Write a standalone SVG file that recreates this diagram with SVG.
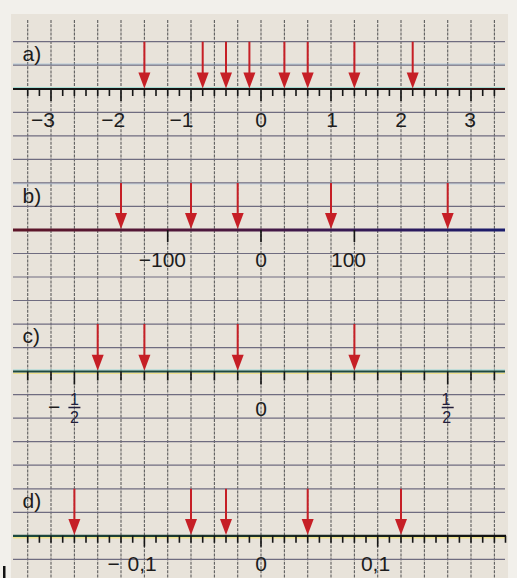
<svg xmlns="http://www.w3.org/2000/svg" width="517" height="578" viewBox="0 0 517 578">
<style>
.vg{stroke:#5e5e5e;stroke-width:1.1;stroke-dasharray:3 1.2;fill:none}
.hg{stroke:#6f6c80;stroke-width:1.2;fill:none}
.tick{stroke:#151515;stroke-width:1.6;fill:none}
.shaft{stroke:#c61f26;stroke-width:2;fill:none}
.head{fill:#c61f26}
.lbl{font-family:"Liberation Sans",Arial,sans-serif;font-size:21px;fill:#1d1d1d}
.num{font-family:"Liberation Sans",Arial,sans-serif;font-size:21px;fill:#1d1d1d}
.frac{font-family:"Liberation Sans",Arial,sans-serif;font-size:16px;fill:#221d3a}
</style>
<defs>
<path id="ah" d="M-6,-16 L6,-16 L0,0 Z" class="head"/>
<linearGradient id="gb" gradientUnits="userSpaceOnUse" x1="13" y1="0" x2="505" y2="0">
<stop offset="0" stop-color="#5e1628"/><stop offset="0.45" stop-color="#4a1840"/><stop offset="1" stop-color="#1b1c6c"/>
</linearGradient>
<linearGradient id="gd" gradientUnits="userSpaceOnUse" x1="13" y1="0" x2="505" y2="0">
<stop offset="0" stop-color="#1c4a40"/><stop offset="0.6" stop-color="#1a2a24"/><stop offset="1" stop-color="#121212"/>
</linearGradient>
<linearGradient id="ga" gradientUnits="userSpaceOnUse" x1="13" y1="0" x2="505" y2="0">
<stop offset="0" stop-color="#161616"/><stop offset="0.7" stop-color="#1a1414"/><stop offset="1" stop-color="#3a1010"/>
</linearGradient>
</defs>
<rect x="0" y="0" width="517" height="578" fill="#f2f0eb"/>
<rect x="11" y="14" width="497" height="564" fill="#e8e3da"/>
<g id="grid">
<path class="vg" d="M27.7,20V578M51,20V578M74.4,20V578M97.7,20V578M121,20V578M144.4,20V578M167.7,20V578M191,20V578M214.4,20V578M237.7,20V578M261,20V578M284.4,20V578M307.7,20V578M331,20V578M354.4,20V578M377.7,20V578M401,20V578M424.4,20V578M447.7,20V578M471,20V578M494.4,20V578"/>
<path class="hg" d="M13,41.7H505M13,65.2H505M13,112.3H505M13,135.8H505M13,159.4H505M13,182.9H505M13,206.4H505M13,253.5H505M13,277H505M13,300.5H505M13,324.1H505M13,347.6H505M13,394.7H505M13,418.2H505M13,441.7H505M13,465.2H505M13,488.8H505M13,512.3H505M13,559.4H505"/>
<path d="M13,64H505" stroke="#8fb6d8" stroke-width="0.8" opacity="0.7"/>
<path d="M13,184H505" stroke="#a8c8e8" stroke-width="0.8" opacity="0.6"/>
</g>
<g id="line-a">
<path d="M13,87.6H505" stroke="#a6dcd2" stroke-width="1.2"/>
<path d="M13,89H505" stroke="url(#ga)" stroke-width="2.2"/>
<path class="tick" d="M27.7,89v7M39.4,89v7M62.7,89v7M74.4,89v7M86,89v7M97.7,89v7M109.4,89v7M132.7,89v7M144.4,89v7M156,89v7M167.7,89v7M179.4,89v7M202.7,89v7M214.4,89v7M226,89v7M237.7,89v7M249.4,89v7M272.7,89v7M284.4,89v7M296,89v7M307.7,89v7M319.4,89v7M342.7,89v7M354.4,89v7M366,89v7M377.7,89v7M389.4,89v7M412.7,89v7M424.4,89v7M436,89v7M447.7,89v7M459.4,89v7M482.7,89v7M494.4,89v7"/>
<path class="tick" stroke-width="2" d="M51,89v12M121,89v12M191,89v12M261,89v12M331,89v12M401,89v12M471,89v12"/>
<text class="lbl" x="22.5" y="61">a)</text>
<text class="num" x="55" y="126.5" text-anchor="end">−3</text>
<text class="num" x="125.3" y="126.5" text-anchor="end">−2</text>
<text class="num" x="193.5" y="126.5" text-anchor="end">−1</text>
<text class="num" x="261" y="126.5" text-anchor="middle">0</text>
<text class="num" x="332" y="126.5" text-anchor="middle">1</text>
<text class="num" x="401" y="126.5" text-anchor="middle">2</text>
<text class="num" x="470" y="126.5" text-anchor="middle">3</text>
</g>
<g id="line-b">
<path d="M13,230H505" stroke="url(#gb)" stroke-width="2.8"/>
<path class="tick" d="M167.7,230v12M261,230v12M354.4,230v12"/>
<text class="lbl" x="22.5" y="202.6">b)</text>
<text class="num" x="186" y="266.5" text-anchor="end" font-size="22">−100</text>
<text class="num" x="261" y="266.5" text-anchor="middle">0</text>
<text class="num" x="331" y="266.5" font-size="22">100</text>
</g>
<g id="line-c">
<path d="M13,370H505" stroke="#9ad8d6" stroke-width="1.2"/>
<path d="M13,373.4H505" stroke="#efe08c" stroke-width="1.4"/>
<path d="M13,371.5H505" stroke="#1e4a40" stroke-width="2.2"/>
<path class="tick" d="M27.7,371.5v9M51,371.5v9M97.7,371.5v9M121,371.5v9M144.4,371.5v9M167.7,371.5v9M191,371.5v9M214.4,371.5v9M237.7,371.5v9M284.4,371.5v9M307.7,371.5v9M331,371.5v9M354.4,371.5v9M377.7,371.5v9M401,371.5v9M424.4,371.5v9M471,371.5v9M494.4,371.5v9"/>
<path class="tick" stroke-width="2" d="M74.4,371.5v13M261,371.5v13M447.7,371.5v13"/>
<text class="lbl" x="22.5" y="343">c)</text>
<text class="num" x="48" y="414" font-size="20">−</text>
<text class="frac" x="74.4" y="405" text-anchor="middle">1</text>
<path d="M68.4,407.5H80.4M441.7,407.5H453.7" stroke="#221d3a" stroke-width="1.5"/>
<text class="frac" x="74.4" y="423" text-anchor="middle">2</text>
<text class="num" x="261" y="416" text-anchor="middle">0</text>
<text class="frac" x="446" y="405" text-anchor="middle">1</text>
<text class="frac" x="446.8" y="423" text-anchor="middle">2</text>
</g>
<g id="line-d">
<path d="M13,537.6H505" stroke="#efe28e" stroke-width="1.6"/>
<path d="M13,535.8H506" stroke="url(#gd)" stroke-width="2.2"/>
<path class="tick" d="M27.7,535.8v7M39.4,535.8v7M51,535.8v7M62.7,535.8v7M74.4,535.8v7M86,535.8v7M97.7,535.8v7M109.4,535.8v7M121,535.8v7M132.7,535.8v7M156,535.8v7M167.7,535.8v7M179.4,535.8v7M191,535.8v7M202.7,535.8v7M214.4,535.8v7M226,535.8v7M237.7,535.8v7M249.4,535.8v7M272.7,535.8v7M284.4,535.8v7M296,535.8v7M307.7,535.8v7M319.4,535.8v7M331,535.8v7M342.7,535.8v7M354.4,535.8v7M366,535.8v7M389.4,535.8v7M401,535.8v7M412.7,535.8v7M424.4,535.8v7M436,535.8v7M447.7,535.8v7M459.4,535.8v7M471,535.8v7M482.7,535.8v7M494.4,535.8v7M505.5,535.8v7"/>
<path class="tick" stroke-width="2" d="M144.4,535.8v11M261,535.8v11M377.7,535.8v11"/>
<text class="lbl" x="22.5" y="508">d)</text>
<text class="num" x="107.5" y="571">−<tspan x="127.5">0,1</tspan></text>
<text class="num" x="261" y="571" text-anchor="middle">0</text>
<text class="num" x="375.5" y="571" text-anchor="middle">0,1</text>
</g>
<g id="arrows">
<path class="shaft" d="M144.4,41.7V75M202.7,41.7V75M226,41.7V75M249.4,41.7V75M284.4,41.7V75M307.7,41.7V75M354.4,41.7V75M412.7,41.7V75"/>
<path class="shaft" d="M121,182.9V215M191,182.9V215M237.7,182.9V215M331,182.9V215M447.7,182.9V215"/>
<path class="shaft" d="M97.7,324.1V357M144.4,324.1V357M237.7,324.1V357M354.4,324.1V357"/>
<path class="shaft" d="M74.4,488.8V521M191,488.8V521M226,488.8V521M307.7,488.8V521M401,488.8V521"/>
<use href="#ah" x="144.4" y="88.5"/><use href="#ah" x="202.7" y="88.5"/><use href="#ah" x="226" y="88.5"/><use href="#ah" x="249.4" y="88.5"/><use href="#ah" x="284.4" y="88.5"/><use href="#ah" x="307.7" y="88.5"/><use href="#ah" x="354.4" y="88.5"/><use href="#ah" x="412.7" y="88.5"/>
<use href="#ah" x="121" y="229"/><use href="#ah" x="191" y="229"/><use href="#ah" x="237.7" y="229"/><use href="#ah" x="331" y="229"/><use href="#ah" x="447.7" y="229"/>
<use href="#ah" x="97.7" y="370.8"/><use href="#ah" x="144.4" y="370.8"/><use href="#ah" x="237.7" y="370.8"/><use href="#ah" x="354.4" y="370.8"/>
<use href="#ah" x="74.4" y="535"/><use href="#ah" x="191" y="535"/><use href="#ah" x="226" y="535"/><use href="#ah" x="307.7" y="535"/><use href="#ah" x="401" y="535"/>
</g>
<rect x="3" y="566" width="2.5" height="12" fill="#111"/>
</svg>
